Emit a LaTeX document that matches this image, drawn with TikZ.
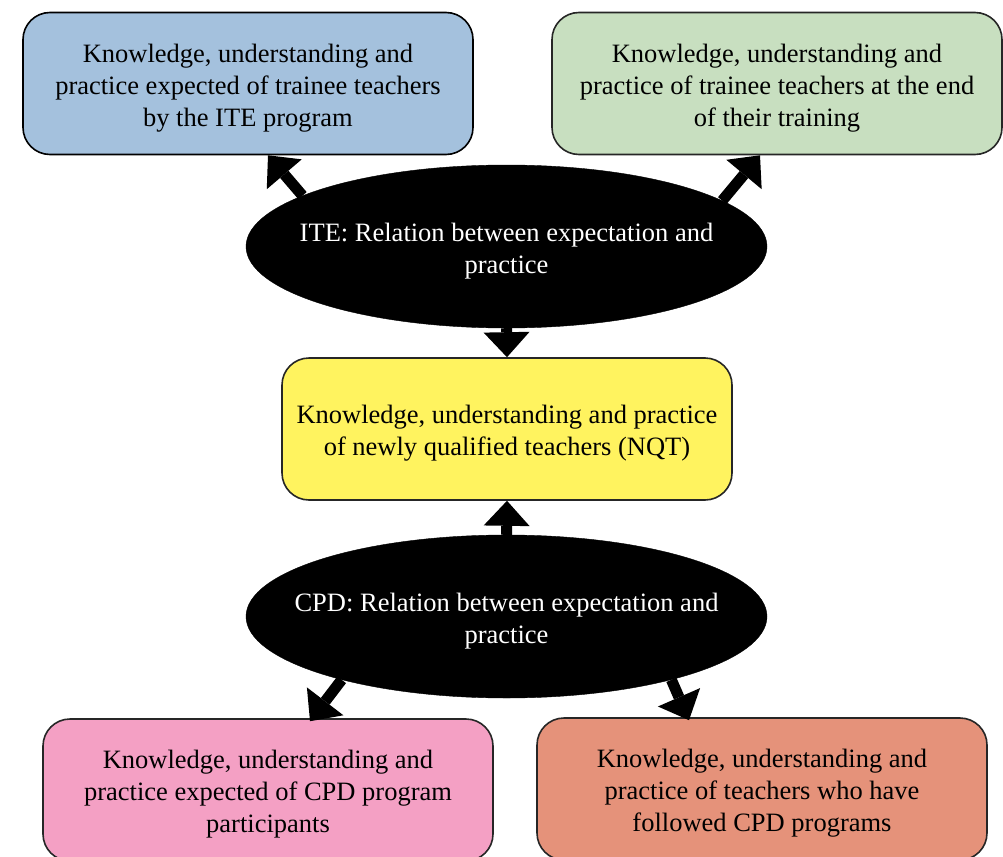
\documentclass[tikz,border=0pt]{standalone}
\usepackage{fontspec}
\setmainfont{Liberation Serif}
\usetikzlibrary{shapes.geometric,arrows.meta}
\definecolor{cblue}{RGB}{164,193,221}
\definecolor{cgreen}{RGB}{200,223,192}
\definecolor{cyellow}{RGB}{255,243,95}
\definecolor{cpink}{RGB}{244,160,196}
\definecolor{csalmon}{RGB}{229,146,122}
\newcommand{\mystrut}{\rule{0pt}{27.5pt}}
\begin{document}
\begin{tikzpicture}[x=1pt,y=-1pt,
  box/.style={draw=black!85, line width=1.6pt, rounded corners=27pt,
    minimum width=450pt, minimum height=142pt, align=center, inner sep=0pt,
    font=\fontsize{26.5}{32}\selectfont},
  oval/.style={ellipse, fill=black, draw=black, minimum width=521pt,
    minimum height=163pt, inner xsep=-40pt, inner ysep=0pt, text=white, align=center,
    font=\fontsize{26.5}{32}\selectfont},
  bigarrow/.style={line width=11pt,
    -{Triangle[width=46pt,length=25pt,line width=0pt]}}]
\useasboundingbox (0,0) rectangle (1003,856);
\node[box, fill=cblue, draw=black] (tl) at (248,83.5)
  {\mystrut Knowledge, understanding and\\practice expected of trainee teachers\\by the ITE program};
\node[box, fill=cgreen] (tr) at (777,83.5)
  {\mystrut Knowledge, understanding and\\practice of trainee teachers at the end\\of their training};
\node[oval] (ite) at (506.5,246.5) {\mystrut ITE: Relation between expectation and\\practice};
\node[box, fill=cyellow] (nqt) at (507,429)
  {\mystrut Knowledge, understanding and practice\\of newly qualified teachers (NQT)};
\node[oval] (cpd) at (506.5,616.5) {\mystrut CPD: Relation between expectation and\\practice};
\node[box, fill=cpink] (bl) at (268,790)
  {\mystrut Knowledge, understanding and\\practice expected of CPD program\\participants};
\node[box, fill=csalmon] (br) at (762,789)
  {\mystrut Knowledge, understanding and\\practice of teachers who have\\followed CPD programs};
\draw[bigarrow] (ite.166) -- ([xshift=20pt]tl.south);
\draw[bigarrow] (ite.12) -- ([xshift=-17pt]tr.south);
\draw[bigarrow] (ite.south) -- (nqt.north);
\draw[bigarrow] (cpd.north) -- (nqt.south);
\draw[bigarrow] (cpd.-159.5) -- ([xshift=42pt,yshift=-3pt]bl.north);
\draw[bigarrow] (cpd.-21.3) -- ([xshift=-73pt,yshift=-3pt]br.north);
\end{tikzpicture}
\end{document}
